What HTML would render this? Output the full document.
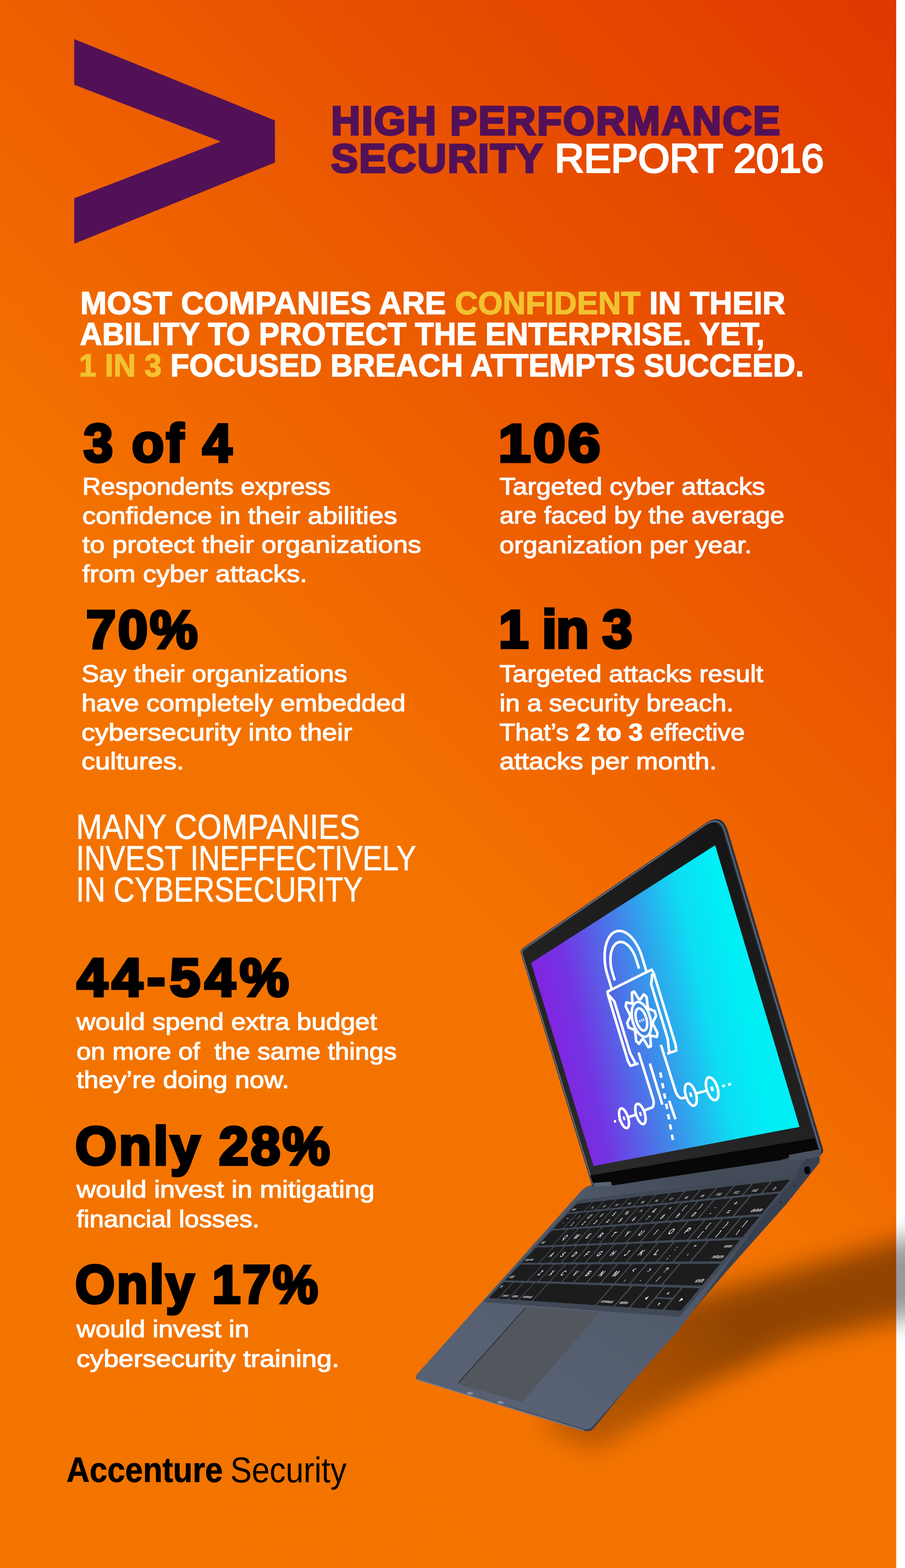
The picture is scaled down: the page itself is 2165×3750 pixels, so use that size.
<!DOCTYPE html>
<html lang="en"><head><meta charset="utf-8"><title>High Performance Security Report 2016</title>
<style>
html,body{margin:0;padding:0;}
body{width:2165px;height:3750px;overflow:hidden;background:#fff;position:relative}
#bg{position:absolute;left:0;top:0;width:2144px;height:3750px;background:linear-gradient(225deg,#E03800 0%,#F47300 55%,#F47400 100%)}
#art{position:absolute;left:0;top:0}
.t{position:absolute;white-space:pre;line-height:1;font-family:"Liberation Sans",Arial,sans-serif;transform-origin:0 0;margin:0}
</style></head><body>
<div id="bg"></div>
<svg id="art" width="2165" height="3750" viewBox="0 0 2165 3750">
<defs>
<filter id="sh1" x="-30%" y="-30%" width="160%" height="160%"><feGaussianBlur stdDeviation="30"/></filter>
<filter id="sh2" x="-30%" y="-30%" width="160%" height="160%"><feGaussianBlur stdDeviation="18"/></filter>
<linearGradient id="scr" gradientUnits="userSpaceOnUse" x1="1315" y1="2541" x2="1793" y2="2435">
<stop offset="0" stop-color="#8322E0"/><stop offset="0.18" stop-color="#7334E3"/><stop offset="0.5" stop-color="#3F8AE9"/><stop offset="0.8" stop-color="#0DDDF3"/><stop offset="1" stop-color="#00F0F6"/></linearGradient>
</defs>
<linearGradient id="shg" gradientUnits="userSpaceOnUse" x1="1350" y1="3450" x2="2150" y2="3050"><stop offset="0" stop-color="#000" stop-opacity="0.22"/><stop offset="0.55" stop-color="#000" stop-opacity="0.40"/><stop offset="1" stop-color="#000" stop-opacity="0.40"/></linearGradient>
<g filter="url(#sh1)"><polygon points="1290,3410 1600,3120 2280,2930 2280,3125 1894,3215 1656,3330 1420,3470" fill="url(#shg)"/></g>
<polygon points="177.6,93.4 657.7,288.0 657.7,388.8 177.6,583.0 177.6,474.2 528.0,338.6 177.6,202.6" fill="#521157" />
<path d="M1390.7,2848.4 Q1400.0,2838.0 1413.7,2835.0 L1453.0,2826.4 Q1455.0,2826.0 1457.0,2825.7 L1858.0,2768.6 Q1862.0,2768.0 1865.9,2767.3 L1954.1,2752.7 Q1958.0,2752.0 1958.6,2756.0 L1961.1,2773.1 Q1962.0,2779.0 1958.2,2783.7 L1881.0,2880.0 Q1881.0,2880.0 1881.0,2880.0 L1738.5,3040.0 Q1738.5,3040.0 1738.5,3040.0 L1483.0,3340.0 Q1483.0,3340.0 1483.0,3340.0 L1420.9,3415.2 Q1412.0,3426.0 1398.6,3421.9 L1004.3,3301.7 Q989.0,3297.0 999.7,3285.1 Z" fill="#394150" />
<linearGradient id="deckg" gradientUnits="userSpaceOnUse" x1="1650" y1="2810" x2="1300" y2="3300"><stop offset="0" stop-color="#434B59"/><stop offset="0.35" stop-color="#505969"/><stop offset="1" stop-color="#586173"/></linearGradient>
<path d="M1390.7,2848.4 Q1400.0,2838.0 1413.7,2835.0 L1453.0,2826.4 Q1455.0,2826.0 1457.0,2825.7 L1859.0,2768.4 Q1862.0,2768.0 1865.0,2767.6 L1935.0,2758.4 Q1938.0,2758.0 1936.2,2760.4 L1871.7,2847.7 Q1871.7,2847.7 1871.7,2847.7 L1765.0,2991.0 Q1765.0,2991.0 1765.0,2991.0 L1621.0,3184.0 Q1621.0,3184.0 1621.0,3184.0 L1418.3,3410.6 Q1409.0,3421.0 1395.6,3417.0 L1005.3,3299.6 Q990.0,3295.0 1000.7,3283.1 Z" fill="url(#deckg)" />
<path d="M1000,3299.5 L1396,3421" stroke="#6C7890" stroke-width="3" fill="none" stroke-linecap="round"/>
<path d="M1115,3333 l7,-5 l10,3 l-2,5 Z M1188,3355 l7,-5 l10,3 l-2,5 Z" fill="#8893A6"/>
<ellipse cx="1931.3" cy="2798.7" rx="7.5" ry="9.5" fill="#050505"/>
<circle cx="1901.5" cy="2835.7" r="1.6" fill="#111"/><circle cx="1867.4" cy="2874.6" r="1.6" fill="#111"/>
<path d="M1379.4,2874.0 Q1383.5,2869.6 1389.4,2868.9 L1906.2,2806.4 Q1912.1,2805.7 1908.3,2810.3 L1630.3,3145.0 Q1626.5,3149.6 1620.5,3149.1 L1161.3,3114.3 Q1155.3,3113.8 1159.4,3109.5 Z" fill="#414957" />
<g fill="#1C1C1D"><path d="M1378.1,2880.7 Q1379.6,2879.1 1381.8,2878.9 L1414.3,2875.1 Q1416.5,2874.9 1415.0,2876.5 L1398.4,2894.4 Q1396.9,2896.0 1394.7,2896.2 L1362.6,2899.4 Q1360.4,2899.6 1361.9,2898.0 Z"  /><path d="M1417.7,2876.2 Q1419.2,2874.6 1421.3,2874.3 L1441.9,2872.0 Q1444.1,2871.7 1442.6,2873.4 L1425.8,2891.6 Q1424.3,2893.3 1422.1,2893.5 L1401.8,2895.5 Q1399.6,2895.7 1401.1,2894.1 Z"  /><path d="M1445.4,2873.0 Q1446.9,2871.4 1449.1,2871.2 L1470.6,2868.7 Q1472.8,2868.5 1471.3,2870.1 L1454.2,2888.8 Q1452.7,2890.4 1450.5,2890.6 L1429.2,2892.8 Q1427.1,2893.0 1428.5,2891.4 Z"  /><path d="M1474.3,2869.8 Q1475.7,2868.1 1477.9,2867.9 L1500.6,2865.3 Q1502.8,2865.0 1501.3,2866.7 L1483.9,2885.8 Q1482.4,2887.4 1480.2,2887.7 L1457.8,2889.9 Q1455.6,2890.1 1457.1,2888.5 Z"  /><path d="M1504.3,2866.3 Q1505.8,2864.7 1508.0,2864.4 L1531.8,2861.7 Q1534.0,2861.5 1532.5,2863.1 L1514.9,2882.7 Q1513.4,2884.3 1511.2,2884.6 L1487.6,2886.9 Q1485.4,2887.1 1486.9,2885.5 Z"  /><path d="M1535.7,2862.8 Q1537.2,2861.1 1539.4,2860.9 L1564.5,2858.0 Q1566.6,2857.8 1565.2,2859.4 L1547.2,2879.5 Q1545.7,2881.1 1543.5,2881.3 L1518.7,2883.8 Q1516.5,2884.0 1518.0,2882.4 Z"  /><path d="M1568.5,2859.0 Q1570.0,2857.4 1572.2,2857.1 L1598.6,2854.1 Q1600.7,2853.9 1599.3,2855.5 L1581.0,2876.1 Q1579.5,2877.7 1577.3,2877.9 L1551.2,2880.6 Q1549.0,2880.8 1550.5,2879.1 Z"  /><path d="M1602.8,2855.1 Q1604.2,2853.5 1606.4,2853.2 L1634.2,2850.0 Q1636.4,2849.8 1635.0,2851.4 L1616.4,2872.5 Q1614.9,2874.2 1612.7,2874.4 L1585.2,2877.2 Q1583.0,2877.4 1584.5,2875.7 Z"  /><path d="M1638.6,2851.0 Q1640.1,2849.4 1642.3,2849.1 L1671.6,2845.8 Q1673.8,2845.5 1672.3,2847.2 L1653.4,2868.8 Q1652.0,2870.5 1649.8,2870.7 L1620.7,2873.6 Q1618.5,2873.8 1620.0,2872.2 Z"  /><path d="M1676.2,2846.8 Q1677.6,2845.1 1679.8,2844.8 L1710.8,2841.3 Q1713.0,2841.1 1711.5,2842.7 L1692.3,2864.9 Q1690.8,2866.6 1688.6,2866.8 L1657.9,2869.9 Q1655.8,2870.1 1657.2,2868.4 Z"  /><path d="M1715.5,2842.3 Q1717.0,2840.6 1719.2,2840.4 L1751.9,2836.6 Q1754.1,2836.4 1752.6,2838.0 L1733.0,2860.8 Q1731.6,2862.5 1729.4,2862.7 L1697.0,2866.0 Q1694.8,2866.2 1696.2,2864.5 Z"  /><path d="M1756.9,2837.6 Q1758.3,2835.9 1760.5,2835.6 L1795.1,2831.7 Q1797.3,2831.4 1795.8,2833.1 L1775.9,2856.5 Q1774.5,2858.2 1772.3,2858.4 L1738.0,2861.9 Q1735.8,2862.1 1737.2,2860.4 Z"  /><path d="M1800.3,2832.6 Q1801.7,2830.9 1803.9,2830.7 L1840.5,2826.5 Q1842.7,2826.3 1841.3,2827.9 L1821.0,2852.0 Q1819.6,2853.7 1817.4,2853.9 L1781.1,2857.6 Q1778.9,2857.8 1780.3,2856.1 Z"  /><path d="M1846.0,2827.4 Q1847.4,2825.7 1849.6,2825.5 L1888.4,2821.0 Q1890.6,2820.8 1889.2,2822.5 L1868.6,2847.3 Q1867.2,2848.9 1865.0,2849.2 L1826.4,2853.0 Q1824.3,2853.2 1825.7,2851.6 Z"  /><path d="M1355.1,2905.4 Q1356.6,2903.8 1358.8,2903.6 L1377.6,2901.7 Q1379.8,2901.5 1378.3,2903.1 L1347.8,2935.9 Q1346.3,2937.5 1344.1,2937.7 L1325.8,2939.0 Q1323.6,2939.2 1325.1,2937.6 Z"  /><path d="M1380.9,2902.9 Q1382.4,2901.3 1384.6,2901.0 L1404.3,2899.1 Q1406.5,2898.9 1405.0,2900.5 L1374.1,2934.0 Q1372.6,2935.7 1370.4,2935.8 L1351.1,2937.2 Q1348.9,2937.4 1350.4,2935.7 Z"  /><path d="M1407.7,2900.3 Q1409.2,2898.7 1411.4,2898.4 L1432.2,2896.4 Q1434.3,2896.2 1432.9,2897.8 L1401.4,2932.1 Q1400.0,2933.7 1397.8,2933.8 L1377.5,2935.3 Q1375.3,2935.5 1376.8,2933.8 Z"  /><path d="M1435.7,2897.6 Q1437.2,2895.9 1439.4,2895.7 L1461.2,2893.6 Q1463.4,2893.4 1461.9,2895.0 L1430.0,2930.0 Q1428.5,2931.6 1426.3,2931.8 L1404.9,2933.3 Q1402.8,2933.5 1404.2,2931.9 Z"  /><path d="M1464.8,2894.7 Q1466.3,2893.1 1468.5,2892.9 L1491.4,2890.7 Q1493.6,2890.5 1492.1,2892.1 L1459.7,2927.9 Q1458.2,2929.5 1456.0,2929.7 L1433.6,2931.3 Q1431.4,2931.4 1432.9,2929.8 Z"  /><path d="M1495.2,2891.8 Q1496.7,2890.2 1498.9,2889.9 L1523.0,2887.6 Q1525.2,2887.4 1523.7,2889.0 L1490.8,2925.6 Q1489.3,2927.3 1487.1,2927.4 L1463.5,2929.1 Q1461.3,2929.3 1462.8,2927.7 Z"  /><path d="M1527.0,2888.7 Q1528.4,2887.1 1530.6,2886.9 L1556.0,2884.4 Q1558.2,2884.2 1556.7,2885.8 L1523.3,2923.3 Q1521.8,2924.9 1519.6,2925.1 L1494.7,2926.9 Q1492.5,2927.0 1494.0,2925.4 Z"  /><path d="M1560.1,2885.5 Q1561.6,2883.9 1563.8,2883.6 L1590.5,2881.0 Q1592.7,2880.8 1591.2,2882.5 L1557.2,2920.9 Q1555.8,2922.5 1553.6,2922.7 L1527.3,2924.5 Q1525.1,2924.7 1526.6,2923.1 Z"  /><path d="M1594.8,2882.1 Q1596.2,2880.5 1598.4,2880.3 L1626.7,2877.5 Q1628.8,2877.3 1627.4,2879.0 L1592.8,2918.3 Q1591.4,2919.9 1589.2,2920.1 L1561.5,2922.1 Q1559.3,2922.2 1560.7,2920.6 Z"  /><path d="M1631.1,2878.6 Q1632.6,2877.0 1634.7,2876.7 L1664.5,2873.8 Q1666.7,2873.6 1665.3,2875.3 L1630.1,2915.6 Q1628.7,2917.3 1626.5,2917.4 L1597.2,2919.5 Q1595.0,2919.7 1596.5,2918.0 Z"  /><path d="M1669.2,2874.9 Q1670.6,2873.3 1672.8,2873.0 L1704.3,2870.0 Q1706.5,2869.8 1705.0,2871.4 L1669.3,2912.8 Q1667.9,2914.4 1665.7,2914.6 L1634.7,2916.8 Q1632.5,2917.0 1634.0,2915.3 Z"  /><path d="M1709.1,2871.0 Q1710.5,2869.4 1712.7,2869.2 L1746.0,2865.9 Q1748.2,2865.7 1746.8,2867.4 L1710.5,2909.8 Q1709.1,2911.5 1706.9,2911.6 L1674.1,2914.0 Q1671.9,2914.2 1673.3,2912.5 Z"  /><path d="M1751.1,2867.0 Q1752.5,2865.3 1754.7,2865.1 L1789.9,2861.7 Q1792.1,2861.4 1790.7,2863.1 L1753.8,2906.7 Q1752.4,2908.4 1750.2,2908.5 L1715.5,2911.0 Q1713.3,2911.2 1714.7,2909.5 Z"  /><path d="M1795.2,2862.7 Q1796.6,2861.0 1798.8,2860.8 L1860.3,2854.8 Q1862.4,2854.6 1861.0,2856.3 L1823.2,2901.7 Q1821.8,2903.4 1819.6,2903.6 L1759.1,2907.9 Q1756.9,2908.1 1758.3,2906.4 Z"  /><path d="M1318.1,2945.0 Q1319.6,2943.4 1321.8,2943.2 L1353.1,2941.1 Q1355.3,2940.9 1353.8,2942.5 L1322.6,2976.3 Q1321.1,2977.9 1318.9,2978.0 L1288.2,2979.3 Q1286.0,2979.4 1287.5,2977.8 Z"  /><path d="M1356.5,2942.4 Q1358.0,2940.7 1360.1,2940.6 L1379.9,2939.2 Q1382.1,2939.1 1380.6,2940.7 L1348.8,2975.2 Q1347.3,2976.9 1345.1,2976.9 L1325.8,2977.7 Q1323.6,2977.8 1325.1,2976.2 Z"  /><path d="M1383.3,2940.5 Q1384.8,2938.9 1387.0,2938.7 L1407.8,2937.3 Q1410.0,2937.2 1408.5,2938.8 L1376.2,2974.1 Q1374.7,2975.7 1372.5,2975.8 L1352.2,2976.7 Q1350.0,2976.7 1351.5,2975.1 Z"  /><path d="M1411.3,2938.6 Q1412.8,2937.0 1415.0,2936.8 L1436.8,2935.3 Q1439.0,2935.2 1437.5,2936.8 L1404.7,2972.9 Q1403.2,2974.5 1401.0,2974.6 L1379.7,2975.5 Q1377.5,2975.6 1379.0,2974.0 Z"  /><path d="M1440.5,2936.6 Q1442.0,2935.0 1444.2,2934.8 L1467.2,2933.2 Q1469.4,2933.1 1467.9,2934.7 L1434.5,2971.7 Q1433.1,2973.3 1430.9,2973.4 L1408.4,2974.3 Q1406.2,2974.4 1407.6,2972.8 Z"  /><path d="M1471.0,2934.5 Q1472.5,2932.9 1474.7,2932.7 L1498.9,2931.1 Q1501.1,2930.9 1499.6,2932.5 L1465.7,2970.4 Q1464.2,2972.0 1462.0,2972.1 L1438.3,2973.1 Q1436.1,2973.2 1437.6,2971.5 Z"  /><path d="M1502.9,2932.3 Q1504.3,2930.7 1506.5,2930.5 L1532.0,2928.8 Q1534.2,2928.6 1532.8,2930.3 L1498.3,2969.0 Q1496.8,2970.7 1494.6,2970.8 L1469.6,2971.8 Q1467.4,2971.9 1468.9,2970.2 Z"  /><path d="M1536.2,2930.0 Q1537.6,2928.4 1539.8,2928.2 L1566.7,2926.4 Q1568.9,2926.2 1567.5,2927.9 L1532.4,2967.6 Q1531.0,2969.3 1528.8,2969.4 L1502.4,2970.4 Q1500.2,2970.5 1501.6,2968.9 Z"  /><path d="M1571.0,2927.6 Q1572.5,2926.0 1574.7,2925.8 L1603.1,2923.9 Q1605.3,2923.7 1603.9,2925.4 L1568.2,2966.1 Q1566.8,2967.8 1564.6,2967.9 L1536.7,2969.0 Q1534.5,2969.1 1535.9,2967.5 Z"  /><path d="M1607.6,2925.1 Q1609.1,2923.5 1611.2,2923.3 L1641.3,2921.3 Q1643.5,2921.1 1642.0,2922.8 L1605.8,2964.6 Q1604.4,2966.2 1602.2,2966.3 L1572.6,2967.5 Q1570.4,2967.6 1571.9,2966.0 Z"  /><path d="M1646.0,2922.5 Q1647.4,2920.9 1649.6,2920.7 L1681.4,2918.5 Q1683.6,2918.4 1682.2,2920.0 L1645.3,2962.9 Q1643.9,2964.6 1641.7,2964.7 L1610.4,2966.0 Q1608.2,2966.1 1609.7,2964.4 Z"  /><path d="M1686.3,2919.8 Q1687.7,2918.1 1689.9,2917.9 L1723.6,2915.6 Q1725.8,2915.5 1724.3,2917.1 L1686.8,2961.2 Q1685.4,2962.9 1683.2,2963.0 L1650.1,2964.3 Q1647.9,2964.4 1649.3,2962.8 Z"  /><path d="M1728.7,2916.8 Q1730.1,2915.2 1732.3,2915.0 L1768.0,2912.6 Q1770.2,2912.4 1768.8,2914.1 L1730.6,2959.4 Q1729.2,2961.1 1727.0,2961.2 L1691.9,2962.6 Q1689.7,2962.7 1691.1,2961.0 Z"  /><path d="M1773.3,2913.8 Q1774.7,2912.1 1776.9,2912.0 L1814.8,2909.4 Q1817.0,2909.2 1815.6,2910.9 L1776.8,2957.5 Q1775.4,2959.2 1773.2,2959.2 L1735.9,2960.8 Q1733.7,2960.9 1735.1,2959.2 Z"  /><path d="M1280.6,2985.3 Q1282.1,2983.7 1284.3,2983.6 L1321.2,2982.2 Q1323.4,2982.1 1321.9,2983.7 L1289.9,3018.3 Q1288.4,3020.0 1286.2,3020.0 L1250.1,3020.3 Q1247.9,3020.3 1249.4,3018.7 Z"  /><path d="M1324.5,2983.6 Q1326.0,2982.0 1328.2,2981.9 L1347.7,2981.2 Q1349.9,2981.1 1348.4,2982.7 L1315.9,3018.1 Q1314.4,3019.7 1312.2,3019.8 L1293.2,3019.9 Q1291.0,3019.9 1292.5,3018.3 Z"  /><path d="M1351.1,2982.6 Q1352.6,2981.0 1354.8,2980.9 L1375.3,2980.1 Q1377.5,2980.0 1376.0,2981.7 L1342.9,3017.9 Q1341.4,3019.5 1339.2,3019.5 L1319.2,3019.7 Q1317.0,3019.7 1318.5,3018.1 Z"  /><path d="M1378.8,2981.5 Q1380.3,2979.9 1382.5,2979.8 L1404.1,2979.0 Q1406.3,2978.9 1404.8,2980.6 L1371.2,3017.6 Q1369.7,3019.3 1367.5,3019.3 L1346.4,3019.5 Q1344.2,3019.5 1345.7,3017.9 Z"  /><path d="M1407.8,2980.5 Q1409.3,2978.8 1411.5,2978.7 L1434.2,2977.9 Q1436.4,2977.8 1434.9,2979.4 L1400.7,3017.4 Q1399.2,3019.0 1397.0,3019.0 L1374.8,3019.2 Q1372.6,3019.3 1374.1,3017.6 Z"  /><path d="M1438.0,2979.3 Q1439.5,2977.7 1441.7,2977.6 L1465.6,2976.7 Q1467.8,2976.6 1466.4,2978.2 L1431.6,3017.1 Q1430.1,3018.8 1427.9,3018.8 L1404.4,3019.0 Q1402.2,3019.0 1403.7,3017.4 Z"  /><path d="M1469.6,2978.1 Q1471.1,2976.5 1473.3,2976.4 L1498.5,2975.4 Q1500.7,2975.3 1499.3,2977.0 L1463.9,3016.9 Q1462.4,3018.5 1460.2,3018.5 L1435.5,3018.7 Q1433.3,3018.7 1434.7,3017.1 Z"  /><path d="M1502.7,2976.9 Q1504.1,2975.2 1506.3,2975.1 L1533.0,2974.1 Q1535.2,2974.0 1533.8,2975.7 L1497.8,3016.6 Q1496.3,3018.2 1494.1,3018.2 L1467.9,3018.5 Q1465.7,3018.5 1467.2,3016.8 Z"  /><path d="M1537.3,2975.6 Q1538.8,2973.9 1541.0,2973.8 L1569.2,2972.7 Q1571.4,2972.7 1569.9,2974.3 L1533.3,3016.3 Q1531.9,3017.9 1529.7,3017.9 L1502.0,3018.2 Q1499.8,3018.2 1501.2,3016.5 Z"  /><path d="M1573.7,2974.2 Q1575.1,2972.5 1577.3,2972.4 L1607.2,2971.3 Q1609.4,2971.2 1607.9,2972.9 L1570.7,3015.9 Q1569.2,3017.6 1567.0,3017.6 L1537.7,3017.9 Q1535.5,3017.9 1537.0,3016.2 Z"  /><path d="M1611.8,2972.7 Q1613.3,2971.1 1615.5,2971.0 L1647.1,2969.8 Q1649.3,2969.7 1647.9,2971.4 L1609.9,3015.6 Q1608.5,3017.3 1606.3,3017.3 L1575.3,3017.6 Q1573.1,3017.6 1574.5,3015.9 Z"  /><path d="M1652.0,2971.2 Q1653.4,2969.5 1655.6,2969.5 L1689.1,2968.2 Q1691.3,2968.1 1689.9,2969.8 L1651.3,3015.3 Q1649.9,3016.9 1647.7,3016.9 L1614.7,3017.2 Q1612.5,3017.2 1614.0,3015.6 Z"  /><path d="M1694.2,2969.6 Q1695.7,2967.9 1697.9,2967.9 L1768.3,2965.2 Q1770.5,2965.1 1769.1,2966.8 L1729.3,3014.6 Q1727.9,3016.3 1725.7,3016.3 L1656.3,3016.9 Q1654.1,3016.9 1655.6,3015.2 Z"  /><path d="M1242.3,3026.3 Q1243.8,3024.6 1246.0,3024.6 L1294.9,3024.4 Q1297.1,3024.4 1295.6,3026.0 L1262.7,3061.7 Q1261.2,3063.4 1259.0,3063.3 L1211.2,3062.0 Q1209.0,3061.9 1210.5,3060.3 Z"  /><path d="M1298.2,3026.0 Q1299.7,3024.4 1301.9,3024.4 L1321.3,3024.3 Q1323.5,3024.3 1322.0,3025.9 L1288.5,3062.4 Q1287.1,3064.1 1284.9,3064.0 L1265.9,3063.5 Q1263.7,3063.4 1265.2,3061.8 Z"  /><path d="M1324.7,3025.9 Q1326.2,3024.3 1328.4,3024.2 L1348.9,3024.1 Q1351.1,3024.1 1349.6,3025.8 L1315.6,3063.2 Q1314.1,3064.8 1311.9,3064.7 L1291.9,3064.2 Q1289.7,3064.1 1291.2,3062.5 Z"  /><path d="M1352.4,3025.8 Q1353.9,3024.1 1356.1,3024.1 L1377.7,3024.0 Q1379.9,3024.0 1378.4,3025.6 L1343.8,3063.9 Q1342.3,3065.6 1340.1,3065.5 L1319.0,3064.9 Q1316.8,3064.9 1318.3,3063.3 Z"  /><path d="M1381.4,3025.6 Q1382.9,3024.0 1385.1,3024.0 L1407.8,3023.9 Q1410.0,3023.9 1408.6,3025.5 L1373.3,3064.8 Q1371.8,3066.4 1369.6,3066.3 L1347.4,3065.7 Q1345.2,3065.7 1346.7,3064.0 Z"  /><path d="M1411.7,3025.5 Q1413.1,3023.8 1415.3,3023.8 L1439.4,3023.7 Q1441.6,3023.7 1440.1,3025.3 L1404.2,3065.6 Q1402.7,3067.2 1400.5,3067.2 L1377.1,3066.5 Q1374.9,3066.5 1376.3,3064.8 Z"  /><path d="M1443.3,3025.3 Q1444.8,3023.7 1447.0,3023.7 L1472.4,3023.6 Q1474.6,3023.5 1473.1,3025.2 L1436.6,3066.5 Q1435.1,3068.1 1432.9,3068.1 L1408.1,3067.4 Q1405.9,3067.3 1407.4,3065.7 Z"  /><path d="M1476.5,3025.2 Q1478.0,3023.5 1480.2,3023.5 L1507.0,3023.4 Q1509.2,3023.4 1507.8,3025.0 L1470.6,3067.4 Q1469.1,3069.1 1466.9,3069.0 L1440.7,3068.3 Q1438.5,3068.2 1439.9,3066.6 Z"  /><path d="M1511.3,3025.0 Q1512.8,3023.4 1515.0,3023.4 L1543.4,3023.2 Q1545.6,3023.2 1544.1,3024.9 L1506.3,3068.4 Q1504.9,3070.0 1502.7,3070.0 L1474.8,3069.2 Q1472.6,3069.2 1474.1,3067.5 Z"  /><path d="M1547.9,3024.9 Q1549.3,3023.2 1551.5,3023.2 L1581.6,3023.0 Q1583.8,3023.0 1582.4,3024.7 L1543.8,3069.4 Q1542.4,3071.1 1540.2,3071.0 L1510.7,3070.2 Q1508.5,3070.1 1510.0,3068.5 Z"  /><path d="M1586.3,3024.7 Q1587.7,3023.0 1589.9,3023.0 L1621.8,3022.8 Q1624.0,3022.8 1622.6,3024.5 L1583.4,3070.5 Q1582.0,3072.1 1579.8,3072.1 L1548.5,3071.2 Q1546.3,3071.2 1547.7,3069.5 Z"  /><path d="M1626.7,3024.5 Q1628.2,3022.8 1630.4,3022.8 L1720.6,3022.4 Q1722.8,3022.4 1721.4,3024.1 L1680.6,3073.1 Q1679.1,3074.8 1676.9,3074.7 L1588.2,3072.3 Q1586.0,3072.3 1587.5,3070.6 Z"  /><path d="M1203.4,3068.0 Q1204.9,3066.4 1207.1,3066.4 L1223.9,3067.0 Q1226.1,3067.0 1224.6,3068.6 L1191.7,3104.1 Q1190.2,3105.7 1188.0,3105.5 L1171.7,3104.4 Q1169.5,3104.3 1171.0,3102.7 Z"  /><path d="M1227.0,3068.7 Q1228.5,3067.1 1230.7,3067.2 L1248.4,3067.7 Q1250.6,3067.8 1249.1,3069.4 L1215.7,3105.6 Q1214.2,3107.3 1212.0,3107.1 L1194.8,3106.0 Q1192.6,3105.8 1194.1,3104.2 Z"  /><path d="M1251.6,3069.5 Q1253.1,3067.9 1255.3,3067.9 L1274.0,3068.5 Q1276.2,3068.6 1274.7,3070.2 L1240.6,3107.3 Q1239.2,3108.9 1237.0,3108.8 L1218.8,3107.6 Q1216.6,3107.4 1218.1,3105.8 Z"  /><path d="M1277.3,3070.3 Q1278.8,3068.7 1281.0,3068.7 L1307.5,3069.6 Q1309.7,3069.6 1308.2,3071.3 L1273.4,3109.5 Q1271.9,3111.1 1269.7,3111.0 L1243.9,3109.2 Q1241.7,3109.1 1243.2,3107.5 Z"  /><path d="M1311.0,3071.4 Q1312.4,3069.7 1314.6,3069.8 L1462.2,3074.4 Q1464.4,3074.5 1462.9,3076.1 L1424.9,3119.5 Q1423.4,3121.1 1421.2,3121.0 L1276.8,3111.4 Q1274.6,3111.3 1276.1,3109.6 Z"  /><path d="M1466.4,3076.2 Q1467.9,3074.6 1470.1,3074.7 L1507.0,3075.8 Q1509.2,3075.9 1507.8,3077.6 L1468.8,3122.4 Q1467.4,3124.1 1465.2,3123.9 L1429.0,3121.5 Q1426.9,3121.4 1428.3,3119.7 Z"  /><path d="M1511.5,3077.7 Q1512.9,3076.0 1515.1,3076.1 L1545.0,3077.0 Q1547.2,3077.1 1545.7,3078.7 L1506.1,3124.9 Q1504.6,3126.5 1502.5,3126.4 L1473.2,3124.5 Q1471.0,3124.3 1472.5,3122.6 Z"  /><path d="M1549.6,3078.9 Q1551.1,3077.2 1553.3,3077.3 L1585.0,3078.3 Q1587.2,3078.3 1585.7,3080.0 L1545.3,3127.5 Q1543.9,3129.1 1541.7,3129.0 L1510.7,3126.9 Q1508.5,3126.8 1509.9,3125.1 Z"  /><path d="M1589.9,3080.1 Q1591.3,3078.5 1593.5,3078.5 L1627.2,3079.6 Q1629.4,3079.7 1627.9,3081.3 L1610.5,3102.1 Q1609.0,3103.8 1606.8,3103.7 L1573.5,3102.1 Q1571.3,3102.0 1572.7,3100.3 Z"  /><path d="M1566.8,3107.3 Q1568.2,3105.6 1570.4,3105.7 L1603.7,3107.4 Q1605.9,3107.5 1604.5,3109.2 L1586.8,3130.2 Q1585.4,3131.9 1583.2,3131.7 L1550.2,3129.6 Q1548.0,3129.4 1549.4,3127.7 Z"  /><path d="M1632.3,3081.5 Q1633.7,3079.8 1635.9,3079.9 L1671.7,3081.0 Q1673.9,3081.1 1672.5,3082.7 L1630.6,3133.1 Q1629.2,3134.8 1627.0,3134.7 L1591.8,3132.3 Q1589.6,3132.2 1591.1,3130.5 Z"  /></g>
<g fill="#E6E6E6" font-family="Liberation Sans, sans-serif" font-weight="700"><text transform="matrix(25.525 -2.626 -38.488 41.280 1367.3 2895.2)" font-size="0.2" text-anchor="start" font-weight="700">esc</text><text transform="matrix(27.442 -2.824 -39.459 42.757 1415.8 2890.2)" font-size="0.17" text-anchor="middle" font-weight="700">F1</text><text transform="matrix(28.583 -2.941 -40.006 43.609 1443.8 2887.3)" font-size="0.17" text-anchor="middle" font-weight="700">F2</text><text transform="matrix(29.796 -3.066 -40.564 44.496 1473.0 2884.3)" font-size="0.17" text-anchor="middle" font-weight="700">F3</text><text transform="matrix(31.088 -3.199 -41.134 45.420 1503.4 2881.2)" font-size="0.17" text-anchor="middle" font-weight="700">F4</text><text transform="matrix(32.467 -3.341 -41.716 46.383 1535.2 2877.9)" font-size="0.17" text-anchor="middle" font-weight="700">F5</text><text transform="matrix(33.938 -3.492 -42.309 47.387 1568.4 2874.5)" font-size="0.17" text-anchor="middle" font-weight="700">F6</text><text transform="matrix(35.513 -3.654 -42.913 48.436 1603.1 2870.9)" font-size="0.17" text-anchor="middle" font-weight="700">F7</text><text transform="matrix(37.199 -3.827 -43.528 49.532 1639.4 2867.2)" font-size="0.17" text-anchor="middle" font-weight="700">F8</text><text transform="matrix(39.008 -4.014 -44.153 50.679 1677.5 2863.3)" font-size="0.17" text-anchor="middle" font-weight="700">F9</text><text transform="matrix(40.953 -4.214 -44.788 51.880 1717.5 2859.2)" font-size="0.17" text-anchor="middle" font-weight="700">F10</text><text transform="matrix(43.046 -4.429 -45.431 53.140 1759.5 2854.9)" font-size="0.17" text-anchor="middle" font-weight="700">F11</text><text transform="matrix(45.305 -4.662 -46.082 54.462 1803.6 2850.3)" font-size="0.17" text-anchor="middle" font-weight="700">F12</text><text transform="matrix(47.746 -4.913 -46.739 55.852 1850.1 2845.5)" font-size="0.17" text-anchor="middle" font-weight="700">⏻</text><text transform="matrix(25.558 -2.214 -39.052 41.961 1354.1 2917.7)" font-size="0.3" text-anchor="middle" font-weight="700">~</text><text transform="matrix(25.358 -1.914 -39.315 42.243 1339.6 2933.3)" font-size="0.3" text-anchor="middle" font-weight="700">`</text><text transform="matrix(26.594 -2.304 -39.595 42.782 1380.1 2915.5)" font-size="0.3" text-anchor="middle" font-weight="700">!</text><text transform="matrix(26.389 -1.992 -39.867 43.075 1365.4 2931.3)" font-size="0.3" text-anchor="middle" font-weight="700">1</text><text transform="matrix(27.694 -2.399 -40.150 43.635 1407.3 2913.1)" font-size="0.3" text-anchor="middle" font-weight="700">@</text><text transform="matrix(27.484 -2.075 -40.432 43.941 1392.4 2929.3)" font-size="0.3" text-anchor="middle" font-weight="700">2</text><text transform="matrix(28.863 -2.500 -40.718 44.523 1435.5 2910.7)" font-size="0.3" text-anchor="middle" font-weight="700">#</text><text transform="matrix(28.649 -2.163 -41.009 44.842 1420.4 2927.2)" font-size="0.3" text-anchor="middle" font-weight="700">3</text><text transform="matrix(30.108 -2.608 -41.298 45.449 1465.0 2908.1)" font-size="0.3" text-anchor="middle" font-weight="700">$</text><text transform="matrix(29.890 -2.256 -41.599 45.780 1449.7 2925.0)" font-size="0.3" text-anchor="middle" font-weight="700">4</text><text transform="matrix(31.436 -2.723 -41.890 46.413 1495.8 2905.4)" font-size="0.3" text-anchor="middle" font-weight="700">%</text><text transform="matrix(31.212 -2.356 -42.202 46.759 1480.2 2922.7)" font-size="0.3" text-anchor="middle" font-weight="700">5</text><text transform="matrix(32.853 -2.846 -42.494 47.419 1527.9 2902.6)" font-size="0.3" text-anchor="middle" font-weight="700">^</text><text transform="matrix(32.625 -2.463 -42.818 47.781 1512.1 2920.3)" font-size="0.3" text-anchor="middle" font-weight="700">6</text><text transform="matrix(34.369 -2.977 -43.111 48.470 1561.5 2899.7)" font-size="0.3" text-anchor="middle" font-weight="700">&amp;</text><text transform="matrix(34.136 -2.577 -43.447 48.848 1545.5 2917.7)" font-size="0.3" text-anchor="middle" font-weight="700">7</text><text transform="matrix(35.991 -3.118 -43.740 49.568 1596.7 2896.7)" font-size="0.3" text-anchor="middle" font-weight="700">*</text><text transform="matrix(35.754 -2.699 -44.089 49.964 1580.4 2915.1)" font-size="0.3" text-anchor="middle" font-weight="700">8</text><text transform="matrix(37.731 -3.269 -44.380 50.717 1633.5 2893.5)" font-size="0.3" text-anchor="middle" font-weight="700">(</text><text transform="matrix(37.490 -2.830 -44.743 51.132 1617.1 2912.3)" font-size="0.3" text-anchor="middle" font-weight="700">9</text><text transform="matrix(39.601 -3.431 -45.031 51.921 1672.2 2890.1)" font-size="0.3" text-anchor="middle" font-weight="700">)</text><text transform="matrix(39.355 -2.971 -45.409 52.356 1655.5 2909.4)" font-size="0.3" text-anchor="middle" font-weight="700">0</text><text transform="matrix(41.613 -3.605 -45.693 53.183 1712.8 2886.6)" font-size="0.3" text-anchor="middle" font-weight="700">_</text><text transform="matrix(41.364 -3.122 -46.085 53.640 1695.8 2906.4)" font-size="0.3" text-anchor="middle" font-weight="700">-</text><text transform="matrix(43.783 -3.793 -46.364 54.508 1755.5 2882.9)" font-size="0.3" text-anchor="middle" font-weight="700">+</text><text transform="matrix(43.530 -3.286 -46.773 54.988 1738.2 2903.2)" font-size="0.3" text-anchor="middle" font-weight="700">=</text><text transform="matrix(47.960 -3.620 -48.052 57.640 1821.9 2896.9)" font-size="0.2" text-anchor="end" font-weight="700">delete</text><text transform="matrix(24.506 -1.111 -39.814 42.703 1293.7 2974.1)" font-size="0.2" text-anchor="start" font-weight="700">tab</text><text transform="matrix(26.483 -1.352 -40.736 44.141 1347.4 2964.3)" font-size="0.36" text-anchor="middle" font-weight="700">Q</text><text transform="matrix(27.602 -1.409 -41.327 45.050 1374.5 2962.9)" font-size="0.36" text-anchor="middle" font-weight="700">W</text><text transform="matrix(28.793 -1.470 -41.933 45.998 1402.6 2961.5)" font-size="0.36" text-anchor="middle" font-weight="700">E</text><text transform="matrix(30.064 -1.535 -42.553 46.987 1432.1 2960.0)" font-size="0.36" text-anchor="middle" font-weight="700">R</text><text transform="matrix(31.420 -1.604 -43.187 48.019 1462.8 2958.4)" font-size="0.36" text-anchor="middle" font-weight="700">T</text><text transform="matrix(32.870 -1.678 -43.835 49.097 1494.9 2956.8)" font-size="0.36" text-anchor="middle" font-weight="700">Y</text><text transform="matrix(34.423 -1.757 -44.498 50.225 1528.6 2955.0)" font-size="0.36" text-anchor="middle" font-weight="700">U</text><text transform="matrix(36.088 -1.842 -45.174 51.406 1563.8 2953.2)" font-size="0.36" text-anchor="middle" font-weight="700">I</text><text transform="matrix(37.878 -1.934 -45.864 52.644 1600.8 2951.4)" font-size="0.36" text-anchor="middle" font-weight="700">O</text><text transform="matrix(39.804 -2.032 -46.568 53.942 1639.6 2949.4)" font-size="0.36" text-anchor="middle" font-weight="700">P</text><text transform="matrix(42.020 -2.410 -47.066 55.053 1689.6 2936.5)" font-size="0.3" text-anchor="middle" font-weight="700">{</text><text transform="matrix(41.753 -1.892 -47.480 55.537 1672.2 2957.0)" font-size="0.3" text-anchor="middle" font-weight="700">[</text><text transform="matrix(44.266 -2.538 -47.784 56.474 1732.8 2934.1)" font-size="0.3" text-anchor="middle" font-weight="700">}</text><text transform="matrix(43.995 -1.994 -48.216 56.984 1715.0 2955.0)" font-size="0.3" text-anchor="middle" font-weight="700">]</text><text transform="matrix(46.696 -2.678 -48.513 57.972 1778.2 2931.4)" font-size="0.3" text-anchor="middle" font-weight="700">|</text><text transform="matrix(46.421 -2.104 -48.963 58.509 1760.2 2953.0)" font-size="0.3" text-anchor="middle" font-weight="700">\</text><text transform="matrix(23.958 -0.304 -40.511 43.450 1255.6 3015.1)" font-size="0.17" text-anchor="start" font-weight="700">caps lock</text><text transform="matrix(26.185 -0.495 -41.627 45.173 1314.9 3006.5)" font-size="0.36" text-anchor="middle" font-weight="700">A</text><text transform="matrix(27.308 -0.516 -42.250 46.126 1341.6 3006.0)" font-size="0.36" text-anchor="middle" font-weight="700">S</text><text transform="matrix(28.504 -0.539 -42.887 47.121 1369.5 3005.4)" font-size="0.36" text-anchor="middle" font-weight="700">D</text><text transform="matrix(29.781 -0.563 -43.541 48.159 1398.7 3004.9)" font-size="0.36" text-anchor="middle" font-weight="700">F</text><text transform="matrix(31.146 -0.589 -44.210 49.244 1429.1 3004.3)" font-size="0.36" text-anchor="middle" font-weight="700">G</text><text transform="matrix(32.606 -0.616 -44.895 50.379 1461.0 3003.7)" font-size="0.36" text-anchor="middle" font-weight="700">H</text><text transform="matrix(34.172 -0.646 -45.596 51.567 1494.4 3003.1)" font-size="0.36" text-anchor="middle" font-weight="700">J</text><text transform="matrix(35.853 -0.678 -46.313 52.813 1529.4 3002.4)" font-size="0.36" text-anchor="middle" font-weight="700">K</text><text transform="matrix(37.662 -0.712 -47.046 54.121 1566.1 3001.7)" font-size="0.36" text-anchor="middle" font-weight="700">L</text><text transform="matrix(39.757 -1.022 -47.576 55.242 1614.0 2990.2)" font-size="0.3" text-anchor="middle" font-weight="700">:</text><text transform="matrix(39.478 -0.501 -47.992 55.724 1596.3 3010.7)" font-size="0.3" text-anchor="middle" font-weight="700">;</text><text transform="matrix(41.864 -1.076 -48.330 56.674 1654.8 2989.2)" font-size="0.3" text-anchor="middle" font-weight="700">"</text><text transform="matrix(41.579 -0.528 -48.763 57.182 1636.9 3010.2)" font-size="0.3" text-anchor="middle" font-weight="700">'</text><text transform="matrix(46.867 -1.302 -49.864 59.813 1749.9 2983.2)" font-size="0.17" text-anchor="end" font-weight="700">enter</text><text transform="matrix(46.525 -0.591 -50.413 60.472 1728.3 3009.1)" font-size="0.2" text-anchor="end" font-weight="700">return</text><text transform="matrix(23.388 0.531 -41.226 44.217 1216.8 3056.7)" font-size="0.2" text-anchor="start" font-weight="700">shift</text><text transform="matrix(26.133 0.417 -42.716 46.493 1287.9 3050.0)" font-size="0.36" text-anchor="middle" font-weight="700">Z</text><text transform="matrix(27.277 0.435 -43.375 47.504 1314.6 3050.4)" font-size="0.36" text-anchor="middle" font-weight="700">X</text><text transform="matrix(28.497 0.455 -44.051 48.559 1342.5 3050.9)" font-size="0.36" text-anchor="middle" font-weight="700">C</text><text transform="matrix(29.800 0.475 -44.744 49.662 1371.6 3051.3)" font-size="0.36" text-anchor="middle" font-weight="700">V</text><text transform="matrix(31.196 0.498 -45.456 50.817 1402.1 3051.8)" font-size="0.36" text-anchor="middle" font-weight="700">B</text><text transform="matrix(32.692 0.522 -46.185 52.026 1434.0 3052.3)" font-size="0.36" text-anchor="middle" font-weight="700">N</text><text transform="matrix(34.298 0.547 -46.932 53.295 1467.5 3052.9)" font-size="0.36" text-anchor="middle" font-weight="700">M</text><text transform="matrix(36.175 0.310 -47.485 54.384 1512.0 3042.8)" font-size="0.3" text-anchor="middle" font-weight="700">&lt;</text><text transform="matrix(35.889 0.815 -47.889 54.846 1494.3 3063.0)" font-size="0.3" text-anchor="middle" font-weight="700">,</text><text transform="matrix(38.040 0.326 -48.260 55.772 1549.1 3043.1)" font-size="0.3" text-anchor="middle" font-weight="700">&gt;</text><text transform="matrix(37.747 0.857 -48.680 56.258 1531.1 3063.8)" font-size="0.3" text-anchor="middle" font-weight="700">.</text><text transform="matrix(40.052 0.343 -49.051 57.232 1588.1 3043.4)" font-size="0.3" text-anchor="middle" font-weight="700">?</text><text transform="matrix(39.753 0.902 -49.490 57.744 1569.9 3064.7)" font-size="0.3" text-anchor="middle" font-weight="700">/</text><text transform="matrix(45.733 1.038 -51.660 61.968 1679.9 3067.2)" font-size="0.2" text-anchor="end" font-weight="700">shift</text><text transform="matrix(23.065 1.001 -41.625 44.646 1195.2 3079.8)" font-size="0.2" text-anchor="start" font-weight="700">fn</text><text transform="matrix(23.728 1.453 -42.595 45.931 1200.1 3100.5)" font-size="0.17" text-anchor="start" font-weight="700">control</text><text transform="matrix(24.742 1.515 -43.260 46.917 1224.3 3102.0)" font-size="0.17" text-anchor="start" font-weight="700">option</text><text transform="matrix(25.823 1.581 -43.943 47.946 1249.6 3103.5)" font-size="0.17" text-anchor="start" font-weight="700">command</text><text transform="matrix(34.513 2.113 -48.661 55.561 1436.1 3114.9)" font-size="0.17" text-anchor="start" font-weight="700">command</text><text transform="matrix(36.774 2.252 -49.701 57.384 1480.7 3117.7)" font-size="0.17" text-anchor="start" font-weight="700">option</text><text transform="matrix(39.677 2.039 -50.569 59.150 1544.0 3106.9)" font-size="0.18" text-anchor="middle" font-weight="700">◀</text><text transform="matrix(42.077 1.770 -51.147 60.448 1596.4 3095.2)" font-size="0.18" text-anchor="middle" font-weight="700">▲</text><text transform="matrix(41.676 2.539 -51.736 61.144 1573.0 3122.8)" font-size="0.18" text-anchor="middle" font-weight="700">▼</text><text transform="matrix(44.268 2.275 -52.330 62.534 1627.8 3111.2)" font-size="0.18" text-anchor="middle" font-weight="700">▶</text></g>
<path d="M1255.5,3130.0 Q1258.8,3126.3 1263.8,3126.7 L1429.6,3138.3 Q1434.6,3138.7 1431.3,3142.5 L1252.3,3349.2 Q1249.0,3353.0 1244.2,3351.7 L1098.8,3311.3 Q1094.0,3310.0 1097.3,3306.3 Z" fill="#52575D" />
<path d="M1096,3308 L1257,3128" stroke="#2A2E35" stroke-width="2" fill="none"/>
<path d="M1246.4,2281.6 Q1243.5,2272.0 1251.8,2266.4 L1688.1,1968.7 Q1727.7,1941.6 1741.5,1987.6 L1968.4,2746.6 Q1972.4,2760.0 1958.5,2761.9 L1420.0,2837.6 Q1417.0,2838.0 1416.1,2835.1 Z" fill="#2E3441" />
<path d="M1249.1,2282.1 Q1246.5,2273.5 1253.9,2268.4 L1686.2,1973.3 Q1722.5,1948.5 1735.1,1990.7 L1961.1,2746.0 Q1964.5,2757.5 1952.6,2759.2 L1422.0,2833.6 Q1419.0,2834.0 1418.1,2831.1 Z"  fill="none" stroke="#6E778A" stroke-width="2.2"/>
<linearGradient id="bezg" gradientUnits="userSpaceOnUse" x1="1760" y1="2050" x2="1330" y2="2700"><stop offset="0" stop-color="#161616"/><stop offset="1" stop-color="#2A2A2A"/></linearGradient>
<path d="M1251.9,2283.1 Q1249.5,2275.5 1256.1,2271.0 L1686.0,1975.6 Q1719.0,1953.0 1730.5,1991.3 L1957.1,2746.4 Q1960.0,2756.0 1950.1,2757.4 L1424.0,2831.6 Q1421.0,2832.0 1420.1,2829.1 Z" fill="url(#bezg)" />
<polygon points="1411.7,2811.3 1949.4,2721.7 1958.0,2748.6 1862.0,2775.6 1463.7,2835.4 1420.0,2834.0" fill="#070707" />
<polygon points="1420.0,2829.0 1462.0,2826.0 1464.0,2836.0 1421.0,2838.0" fill="#596273" />
<path d="M1887.2,2765.0 Q1887.0,2762.0 1890.0,2761.5 L1955.0,2749.5 Q1958.0,2749.0 1959.4,2751.6 L1964.6,2761.4 Q1966.0,2764.0 1963.1,2764.7 L1942.9,2769.3 Q1940.0,2770.0 1937.0,2770.3 L1891.0,2774.7 Q1888.0,2775.0 1887.8,2772.0 Z" fill="#4A5262" />
<polygon points="1270.5,2302.7 1710.8,2021.5 1912.7,2695.0 1420.0,2788.7" fill="url(#scr)" />
<g fill="none" stroke="#fff" stroke-width="6.2" stroke-linejoin="round" stroke-linecap="butt"><path d="M1463.7,2366.3 L1453.3,2332.2 L1453.3,2332.2 L1451.4,2325.8 L1449.9,2319.3 L1448.6,2312.8 L1447.6,2306.2 L1446.9,2299.6 L1446.5,2293.1 L1446.4,2286.8 L1446.6,2280.5 L1447.1,2274.4 L1447.8,2268.5 L1448.9,2262.9 L1450.3,2257.6 L1451.9,2252.5 L1453.8,2247.9 L1456.0,2243.6 L1458.4,2239.7 L1461.0,2236.3 L1463.9,2233.4 L1467.0,2230.9 L1470.3,2228.9 L1473.7,2227.5 L1477.3,2226.6 L1481.0,2226.3 L1484.8,2226.5 L1488.7,2227.3 L1492.6,2228.6 L1496.5,2230.5 L1500.4,2232.9 L1504.4,2235.8 L1508.2,2239.3 L1512.0,2243.2 L1515.6,2247.6 L1519.1,2252.4 L1522.4,2257.7 L1525.6,2263.3 L1528.5,2269.2 L1531.2,2275.4 L1533.7,2281.9 L1535.9,2288.6 L1546.9,2324.8"/><path d="M1470.8,2344.9 L1465.0,2326.0 L1465.0,2326.0 L1463.8,2321.5 L1462.7,2317.0 L1461.8,2312.4 L1461.1,2307.8 L1460.6,2303.3 L1460.4,2298.7 L1460.3,2294.3 L1460.4,2289.9 L1460.8,2285.7 L1461.3,2281.6 L1462.1,2277.7 L1463.1,2274.0 L1464.2,2270.5 L1465.6,2267.3 L1467.1,2264.4 L1468.8,2261.7 L1470.7,2259.4 L1472.7,2257.4 L1474.8,2255.7 L1477.1,2254.4 L1479.5,2253.5 L1482.0,2252.9 L1484.5,2252.7 L1487.2,2252.9 L1489.8,2253.4 L1492.5,2254.4 L1495.3,2255.7 L1498.0,2257.4 L1500.7,2259.5 L1503.3,2261.9 L1505.9,2264.6 L1508.4,2267.6 L1510.8,2271.0 L1513.1,2274.6 L1515.2,2278.4 L1517.2,2282.5 L1519.1,2286.8 L1520.8,2291.2 L1522.3,2295.8 L1522.3,2295.8 L1528.6,2316.6"/><path d="M1527.5,2543.0 L1508.4,2549.1 L1502.5,2538.6 L1454.9,2380.7 L1453.3,2371.5 L1558.8,2318.9 L1563.7,2327.3 L1616.2,2499.0 L1617.9,2512.6 L1596.0,2519.7"/><path d="M1456.7,2379.9 L1469.8,2395.5 L1507.4,2518.6 L1518.1,2539.0 L1520.1,2545.6"/><path d="M1560.4,2328.9 L1557.7,2353.7 L1597.5,2485.0 L1600.0,2509.9 L1602.1,2516.9"/><path d="M1512.9,2396.7 L1511.5,2374.0 L1517.1,2371.3 L1528.3,2389.6 L1529.9,2390.0 L1531.6,2390.6 L1540.1,2378.0 L1546.8,2384.3 L1549.5,2407.8 L1550.9,2410.2 L1552.3,2412.7 L1566.0,2418.1 L1569.5,2429.8 L1561.9,2444.2 L1562.2,2447.2 L1562.4,2450.1 L1572.9,2470.2 L1571.2,2480.1 L1557.8,2476.7 L1556.8,2478.4 L1555.8,2480.0 L1557.0,2502.4 L1551.2,2504.5 L1540.1,2486.1 L1538.5,2485.6 L1536.8,2484.9 L1528.5,2496.4 L1522.1,2490.0 L1519.4,2467.6 L1518.0,2465.2 L1516.7,2462.7 L1503.9,2457.3 L1500.5,2446.1 L1507.4,2432.3 L1507.1,2429.4 L1506.9,2426.5 L1496.9,2407.1 L1498.3,2397.4 L1511.0,2400.1 L1511.9,2398.3 Z"/><path d="M1554.3,2429.6 L1555.6,2434.1 L1556.5,2438.6 L1557.2,2443.0 L1557.7,2447.4 L1557.9,2451.7 L1557.8,2455.9 L1557.4,2459.8 L1556.8,2463.5 L1555.9,2466.9 L1554.8,2469.9 L1553.5,2472.6 L1551.9,2474.8 L1550.1,2476.7 L1548.2,2478.1 L1546.1,2479.0 L1543.9,2479.5 L1541.5,2479.5 L1539.1,2479.1 L1536.7,2478.2 L1534.2,2476.8 L1531.8,2475.0 L1529.3,2472.8 L1527.0,2470.2 L1524.7,2467.3 L1522.5,2464.0 L1520.5,2460.5 L1518.6,2456.7 L1516.9,2452.7 L1515.4,2448.5 L1514.1,2444.3 L1513.0,2439.9 L1512.1,2435.6 L1511.5,2431.2 L1511.2,2426.9 L1511.1,2422.8 L1511.3,2418.8 L1511.7,2415.0 L1512.4,2411.5 L1513.4,2408.3 L1514.5,2405.4 L1515.9,2402.8 L1517.5,2400.7 L1519.3,2398.9 L1521.3,2397.6 L1523.4,2396.8 L1525.7,2396.4 L1528.1,2396.5 L1530.5,2397.1 L1533.0,2398.1 L1535.5,2399.7 L1538.0,2401.6 L1540.5,2404.0 L1542.9,2406.7 L1545.2,2409.9 L1547.3,2413.3 L1549.4,2417.1 L1551.2,2421.1 L1552.9,2425.3 L1554.3,2429.6 Z"/><path d="M1545.7,2433.3 L1546.4,2436.1 L1547.1,2439.0 L1547.6,2441.8 L1547.9,2444.6 L1548.1,2447.3 L1548.1,2449.9 L1548.0,2452.3 L1547.7,2454.6 L1547.3,2456.8 L1546.7,2458.7 L1546.0,2460.3 L1545.1,2461.7 L1544.1,2462.9 L1543.0,2463.7 L1541.8,2464.3 L1540.6,2464.5 L1539.2,2464.5 L1537.8,2464.2 L1536.4,2463.5 L1534.9,2462.6 L1533.5,2461.4 L1532.0,2460.0 L1530.6,2458.3 L1529.2,2456.4 L1527.9,2454.3 L1526.6,2452.0 L1525.5,2449.5 L1524.4,2446.9 L1523.4,2444.3 L1522.6,2441.5 L1521.9,2438.7 L1521.3,2435.9 L1520.9,2433.2 L1520.6,2430.4 L1520.5,2427.8 L1520.5,2425.3 L1520.7,2422.9 L1521.1,2420.7 L1521.6,2418.7 L1522.2,2416.9 L1523.0,2415.3 L1523.9,2414.0 L1524.9,2413.0 L1526.0,2412.2 L1527.2,2411.8 L1528.5,2411.6 L1529.9,2411.8 L1531.3,2412.2 L1532.8,2412.9 L1534.3,2414.0 L1535.7,2415.3 L1537.2,2416.8 L1538.6,2418.6 L1540.0,2420.7 L1541.3,2422.9 L1542.6,2425.3 L1543.7,2427.9 L1544.7,2430.5 L1545.7,2433.3 Z"/><path d="M1529.3,2442.8 L1531.5,2441.8"/><path d="M1533.8,2440.9 L1536.1,2439.9"/><path d="M1538.3,2439.0 L1540.6,2438.0"/><path d="M1527.6,2517.3 L1562.2,2627.6 L1562.2,2627.6 L1563.0,2631.0 L1563.6,2634.3 L1563.8,2637.6 L1563.6,2640.6 L1563.1,2643.3 L1562.3,2645.6 L1561.2,2647.5 L1559.8,2648.8 L1558.2,2649.5 L1548.3,2652.8 L1539.9,2657.4"/><path d="M1542.1,2661.5 L1543.1,2665.4 L1543.9,2669.3 L1544.4,2673.1 L1544.5,2676.6 L1544.3,2679.8 L1543.8,2682.6 L1543.0,2684.9 L1541.9,2686.6 L1540.6,2687.8 L1539.0,2688.4 L1537.3,2688.3 L1535.4,2687.6 L1533.4,2686.3 L1531.5,2684.4 L1529.5,2682.0 L1527.6,2679.2 L1525.8,2675.9 L1524.2,2672.4 L1522.8,2668.7 L1521.6,2664.8 L1520.7,2660.9 L1520.1,2657.1 L1519.8,2653.5 L1519.8,2650.1 L1520.1,2647.1 L1520.7,2644.6 L1521.6,2642.5 L1522.8,2641.0 L1524.3,2640.1 L1525.9,2639.8 L1527.7,2640.1 L1529.6,2641.1 L1531.6,2642.7 L1533.6,2644.8 L1535.6,2647.4 L1537.5,2650.5 L1539.2,2653.9 L1540.8,2657.6 L1542.1,2661.5 Z"/><path d="M1502.3,2672.0 L1503.3,2675.8 L1504.1,2679.6 L1504.5,2683.2 L1504.7,2686.7 L1504.5,2689.8 L1504.1,2692.5 L1503.3,2694.7 L1502.3,2696.4 L1501.0,2697.5 L1499.6,2698.0 L1497.9,2697.9 L1496.1,2697.3 L1494.3,2696.0 L1492.4,2694.1 L1490.5,2691.8 L1488.7,2689.0 L1487.0,2685.9 L1485.4,2682.4 L1484.0,2678.8 L1482.9,2675.1 L1482.0,2671.3 L1481.4,2667.6 L1481.0,2664.1 L1481.0,2660.8 L1481.3,2657.9 L1481.9,2655.4 L1482.7,2653.4 L1483.9,2652.0 L1485.2,2651.1 L1486.8,2650.8 L1488.5,2651.2 L1490.3,2652.1 L1492.2,2653.6 L1494.1,2655.7 L1496.0,2658.3 L1497.8,2661.3 L1499.5,2664.6 L1501.0,2668.2 L1502.3,2672.0 Z"/><path d="M1521.8,2665.7 L1502.3,2672.0"/><path d="M1484.7,2677.7 L1479.7,2679.0"/><path d="M1473.7,2681.2 L1468.7,2682.5"/><path d="M1581.0,2498.9 L1615.8,2609.2 L1615.8,2609.2 L1617.1,2612.7 L1618.6,2615.9 L1620.3,2618.9 L1622.3,2621.4 L1624.3,2623.6 L1626.5,2625.2 L1628.6,2626.2 L1630.7,2626.6 L1632.7,2626.4 L1642.1,2623.8"/><path d="M1664.4,2614.6 L1665.6,2618.9 L1666.4,2623.2 L1666.8,2627.3 L1666.9,2631.2 L1666.6,2634.7 L1665.9,2637.8 L1664.9,2640.3 L1663.5,2642.3 L1661.9,2643.6 L1660.1,2644.3 L1658.0,2644.2 L1655.8,2643.5 L1653.6,2642.1 L1651.3,2640.2 L1649.1,2637.6 L1646.9,2634.5 L1644.9,2631.0 L1643.1,2627.2 L1641.5,2623.1 L1640.3,2618.9 L1639.3,2614.7 L1638.7,2610.5 L1638.4,2606.6 L1638.5,2602.9 L1639.0,2599.6 L1639.8,2596.7 L1640.9,2594.4 L1642.4,2592.7 L1644.1,2591.7 L1646.0,2591.3 L1648.2,2591.6 L1650.4,2592.6 L1652.7,2594.2 L1655.0,2596.5 L1657.2,2599.3 L1659.3,2602.7 L1661.3,2606.4 L1663.0,2610.4 L1664.4,2614.6 Z"/><path d="M1716.2,2600.5 L1717.4,2604.9 L1718.2,2609.3 L1718.6,2613.6 L1718.6,2617.6 L1718.3,2621.3 L1717.5,2624.5 L1716.4,2627.1 L1715.0,2629.2 L1713.2,2630.5 L1711.3,2631.2 L1709.1,2631.2 L1706.8,2630.5 L1704.4,2629.1 L1702.0,2627.0 L1699.6,2624.4 L1697.4,2621.2 L1695.3,2617.6 L1693.4,2613.7 L1691.8,2609.5 L1690.5,2605.1 L1689.5,2600.8 L1688.9,2596.5 L1688.6,2592.4 L1688.8,2588.5 L1689.3,2585.1 L1690.2,2582.2 L1691.4,2579.8 L1693.0,2578.0 L1694.8,2576.9 L1696.9,2576.5 L1699.1,2576.8 L1701.5,2577.8 L1703.9,2579.5 L1706.3,2581.8 L1708.7,2584.7 L1710.9,2588.1 L1712.9,2592.0 L1714.7,2596.1 L1716.2,2600.5 Z"/><path d="M1664.6,2615.2 L1691.3,2607.9"/><path d="M1727.5,2598.0 L1734.6,2596.1"/><path d="M1741.7,2594.2 L1748.8,2592.2"/><path d="M1554.6,2543.5 L1584.5,2641.9"/><path d="M1600.8,2632.6 L1615.8,2676.8"/><path d="M1579.5,2564.9 L1582.1,2577.7"/><path d="M1584.2,2590.0 L1586.8,2602.7"/><path d="M1588.9,2614.9 L1591.5,2627.6"/><path d="M1593.5,2639.7 L1596.1,2652.4"/><path d="M1598.1,2664.5 L1600.7,2677.1"/><path d="M1602.7,2689.1 L1605.3,2701.6"/><path d="M1607.3,2713.6 L1609.9,2726.1"/></g>
<g fill="#fff"><path d="M1528.2,2659.9 L1533.0,2658.6 L1536.0,2668.3 L1531.1,2669.6 Z"/><path d="M1489.0,2670.4 L1493.6,2669.2 L1496.5,2678.6 L1491.9,2679.8 Z"/><path d="M1648.1,2613.4 L1653.8,2611.8 L1657.0,2622.3 L1651.3,2623.9 Z"/><path d="M1698.8,2599.3 L1705.0,2597.6 L1708.3,2608.5 L1702.1,2610.2 Z"/></g>
</svg>
<div class="t" style="left:792.0px;top:240.6px;font-size:95.85px;-webkit-text-stroke-width:4.8px;letter-spacing:3px;transform:scaleX(1.0114)"><span style="color:#521157;-webkit-text-stroke-color:#521157;font-weight:700;">HIGH PERFORMANCE</span></div>
<div class="t" style="left:791.5px;top:330.6px;font-size:95.85px;-webkit-text-stroke-width:4.8px;letter-spacing:3px;transform:scaleX(1.0020)"><span style="color:#521157;-webkit-text-stroke-color:#521157;font-weight:700;">SECURITY</span></div>
<div class="t" style="left:1326.7px;top:330.0px;font-size:97.02px;-webkit-text-stroke-width:4.0px;letter-spacing:0px;transform:scaleX(1.0005)"><span style="color:#ffffff;-webkit-text-stroke-color:#ffffff;font-weight:400;">REPORT 2016</span></div>
<div class="t" style="left:192.0px;top:686.6px;font-size:76.51px;-webkit-text-stroke-width:1.9px;letter-spacing:0px;transform:scaleX(0.9947)"><span style="color:#ffffff;-webkit-text-stroke-color:#ffffff;font-weight:700;">MOST COMPANIES ARE </span><span style="color:#F2C230;-webkit-text-stroke-color:#F2C230;font-weight:700;">CONFIDENT</span><span style="color:#ffffff;-webkit-text-stroke-color:#ffffff;font-weight:700;"> IN THEIR</span></div>
<div class="t" style="left:191.4px;top:761.1px;font-size:76.51px;-webkit-text-stroke-width:1.9px;letter-spacing:0px;transform:scaleX(0.9658)"><span style="color:#ffffff;-webkit-text-stroke-color:#ffffff;font-weight:700;">ABILITY TO PROTECT THE ENTERPRISE. YET,</span></div>
<div class="t" style="left:189.0px;top:836.1px;font-size:76.51px;-webkit-text-stroke-width:1.9px;letter-spacing:0px;transform:scaleX(0.9692)"><span style="color:#F2C230;-webkit-text-stroke-color:#F2C230;font-weight:700;">1 IN 3</span><span style="color:#ffffff;-webkit-text-stroke-color:#ffffff;font-weight:700;"> FOCUSED BREACH ATTEMPTS SUCCEED.</span></div>
<div class="t" style="left:200.2px;top:995.8px;font-size:128.0px;-webkit-text-stroke-width:7.0px;letter-spacing:5px;transform:scaleX(0.9876)"><span style="color:#000000;-webkit-text-stroke-color:#000000;font-weight:700;">3 of 4</span></div>
<div class="t" style="left:1192.1px;top:996.1px;font-size:128.0px;-webkit-text-stroke-width:7.0px;letter-spacing:5px;transform:scaleX(1.0922)"><span style="color:#000000;-webkit-text-stroke-color:#000000;font-weight:700;">106</span></div>
<div class="t" style="left:205.5px;top:1442.3px;font-size:128.0px;-webkit-text-stroke-width:7.0px;letter-spacing:5px;transform:scaleX(1.0019)"><span style="color:#000000;-webkit-text-stroke-color:#000000;font-weight:700;">70%</span></div>
<div class="t" style="left:1192.6px;top:1441.1px;font-size:128.0px;-webkit-text-stroke-width:7.0px;letter-spacing:-2px;transform:scaleX(1.0077)"><span style="color:#000000;-webkit-text-stroke-color:#000000;font-weight:700;">1 in 3</span></div>
<div class="t" style="left:184.1px;top:2273.9px;font-size:128.0px;-webkit-text-stroke-width:7.0px;letter-spacing:10px;transform:scaleX(1.0320)"><span style="color:#000000;-webkit-text-stroke-color:#000000;font-weight:700;">44-54%</span></div>
<div class="t" style="left:180.0px;top:2677.1px;font-size:128.0px;-webkit-text-stroke-width:7.0px;letter-spacing:5px;transform:scaleX(0.9964)"><span style="color:#000000;-webkit-text-stroke-color:#000000;font-weight:700;">Only 28%</span></div>
<div class="t" style="left:179.6px;top:3007.7px;font-size:128.0px;-webkit-text-stroke-width:7.0px;letter-spacing:5px;transform:scaleX(0.9499)"><span style="color:#000000;-webkit-text-stroke-color:#000000;font-weight:700;">Only 17%</span></div>
<div class="t" style="left:196.7px;top:1133.9px;font-size:58.04px;-webkit-text-stroke-width:1.6px;letter-spacing:0px;transform:scaleX(1.0577)"><span style="color:#ffffff;-webkit-text-stroke-color:#ffffff;font-weight:400;">Respondents express</span></div>
<div class="t" style="left:196.7px;top:1203.6px;font-size:58.04px;-webkit-text-stroke-width:1.6px;letter-spacing:0px;transform:scaleX(1.1064)"><span style="color:#ffffff;-webkit-text-stroke-color:#ffffff;font-weight:400;">confidence in their abilities</span></div>
<div class="t" style="left:196.7px;top:1272.7px;font-size:58.04px;-webkit-text-stroke-width:1.6px;letter-spacing:0px;transform:scaleX(1.1072)"><span style="color:#ffffff;-webkit-text-stroke-color:#ffffff;font-weight:400;">to protect their organizations</span></div>
<div class="t" style="left:196.7px;top:1343.0px;font-size:58.04px;-webkit-text-stroke-width:1.6px;letter-spacing:0px;transform:scaleX(1.0974)"><span style="color:#ffffff;-webkit-text-stroke-color:#ffffff;font-weight:400;">from cyber attacks.</span></div>
<div class="t" style="left:1195.0px;top:1134.3px;font-size:58.04px;-webkit-text-stroke-width:1.6px;letter-spacing:0px;transform:scaleX(1.0883)"><span style="color:#ffffff;-webkit-text-stroke-color:#ffffff;font-weight:400;">Targeted cyber attacks</span></div>
<div class="t" style="left:1195.0px;top:1203.2px;font-size:58.04px;-webkit-text-stroke-width:1.6px;letter-spacing:0px;transform:scaleX(1.0617)"><span style="color:#ffffff;-webkit-text-stroke-color:#ffffff;font-weight:400;">are faced by the average</span></div>
<div class="t" style="left:1195.0px;top:1273.7px;font-size:58.04px;-webkit-text-stroke-width:1.6px;letter-spacing:0px;transform:scaleX(1.0812)"><span style="color:#ffffff;-webkit-text-stroke-color:#ffffff;font-weight:400;">organization per year.</span></div>
<div class="t" style="left:195.3px;top:1581.8px;font-size:58.04px;-webkit-text-stroke-width:1.6px;letter-spacing:0px;transform:scaleX(1.0765)"><span style="color:#ffffff;-webkit-text-stroke-color:#ffffff;font-weight:400;">Say their organizations</span></div>
<div class="t" style="left:195.3px;top:1651.9px;font-size:58.04px;-webkit-text-stroke-width:1.6px;letter-spacing:0px;transform:scaleX(1.0923)"><span style="color:#ffffff;-webkit-text-stroke-color:#ffffff;font-weight:400;">have completely embedded</span></div>
<div class="t" style="left:195.3px;top:1721.7px;font-size:58.04px;-webkit-text-stroke-width:1.6px;letter-spacing:0px;transform:scaleX(1.1154)"><span style="color:#ffffff;-webkit-text-stroke-color:#ffffff;font-weight:400;">cybersecurity into their</span></div>
<div class="t" style="left:195.3px;top:1790.7px;font-size:58.04px;-webkit-text-stroke-width:1.6px;letter-spacing:0px;transform:scaleX(1.1193)"><span style="color:#ffffff;-webkit-text-stroke-color:#ffffff;font-weight:400;">cultures.</span></div>
<div class="t" style="left:1195.0px;top:1582.4px;font-size:58.04px;-webkit-text-stroke-width:1.6px;letter-spacing:0px;transform:scaleX(1.0808)"><span style="color:#ffffff;-webkit-text-stroke-color:#ffffff;font-weight:400;">Targeted attacks result</span></div>
<div class="t" style="left:1195.0px;top:1651.6px;font-size:58.04px;-webkit-text-stroke-width:1.6px;letter-spacing:0px;transform:scaleX(1.0786)"><span style="color:#ffffff;-webkit-text-stroke-color:#ffffff;font-weight:400;">in a security breach.</span></div>
<div class="t" style="left:1195.0px;top:1721.5px;font-size:58.04px;-webkit-text-stroke-width:1.6px;letter-spacing:0px;transform:scaleX(1.0556)"><span style="color:#ffffff;-webkit-text-stroke-color:#ffffff;font-weight:400;">That’s </span><span style="color:#ffffff;-webkit-text-stroke-color:#ffffff;font-weight:700;">2 to 3</span><span style="color:#ffffff;-webkit-text-stroke-color:#ffffff;font-weight:400;"> effective</span></div>
<div class="t" style="left:1195.0px;top:1791.2px;font-size:58.04px;-webkit-text-stroke-width:1.6px;letter-spacing:0px;transform:scaleX(1.0888)"><span style="color:#ffffff;-webkit-text-stroke-color:#ffffff;font-weight:400;">attacks per month.</span></div>
<div class="t" style="left:183.1px;top:2413.7px;font-size:58.04px;-webkit-text-stroke-width:1.6px;letter-spacing:0px;transform:scaleX(1.0818)"><span style="color:#ffffff;-webkit-text-stroke-color:#ffffff;font-weight:400;">would spend extra budget</span></div>
<div class="t" style="left:183.1px;top:2484.6px;font-size:58.04px;-webkit-text-stroke-width:1.6px;letter-spacing:0px;transform:scaleX(1.0646)"><span style="color:#ffffff;-webkit-text-stroke-color:#ffffff;font-weight:400;">on more of  the same things</span></div>
<div class="t" style="left:183.1px;top:2553.2px;font-size:58.04px;-webkit-text-stroke-width:1.6px;letter-spacing:0px;transform:scaleX(1.0877)"><span style="color:#ffffff;-webkit-text-stroke-color:#ffffff;font-weight:400;">they’re doing now.</span></div>
<div class="t" style="left:183.1px;top:2815.2px;font-size:58.04px;-webkit-text-stroke-width:1.6px;letter-spacing:0px;transform:scaleX(1.1053)"><span style="color:#ffffff;-webkit-text-stroke-color:#ffffff;font-weight:400;">would invest in mitigating</span></div>
<div class="t" style="left:183.1px;top:2885.6px;font-size:58.04px;-webkit-text-stroke-width:1.6px;letter-spacing:0px;transform:scaleX(1.0684)"><span style="color:#ffffff;-webkit-text-stroke-color:#ffffff;font-weight:400;">financial losses.</span></div>
<div class="t" style="left:182.6px;top:3149.2px;font-size:58.04px;-webkit-text-stroke-width:1.6px;letter-spacing:0px;transform:scaleX(1.0855)"><span style="color:#ffffff;-webkit-text-stroke-color:#ffffff;font-weight:400;">would invest in</span></div>
<div class="t" style="left:182.6px;top:3219.6px;font-size:58.04px;-webkit-text-stroke-width:1.6px;letter-spacing:0px;transform:scaleX(1.1138)"><span style="color:#ffffff;-webkit-text-stroke-color:#ffffff;font-weight:400;">cybersecurity training.</span></div>
<div class="t" style="left:181.8px;top:1936.4px;font-size:83.64px;-webkit-text-stroke-width:1.0px;letter-spacing:0px;transform:scaleX(0.8957)"><span style="color:#ffffff;-webkit-text-stroke-color:#ffffff;font-weight:400;">MANY COMPANIES</span></div>
<div class="t" style="left:181.8px;top:2010.8px;font-size:83.64px;-webkit-text-stroke-width:1.0px;letter-spacing:0px;transform:scaleX(0.8443)"><span style="color:#ffffff;-webkit-text-stroke-color:#ffffff;font-weight:400;">INVEST INEFFECTIVELY</span></div>
<div class="t" style="left:181.8px;top:2086.3px;font-size:83.64px;-webkit-text-stroke-width:1.0px;letter-spacing:0px;transform:scaleX(0.8386)"><span style="color:#ffffff;-webkit-text-stroke-color:#ffffff;font-weight:400;">IN CYBERSECURITY</span></div>
<div class="t" style="left:159.2px;top:3473.8px;font-size:83.64px;-webkit-text-stroke-width:1.0px;letter-spacing:0px;transform:scaleX(0.9148)"><span style="color:#000000;-webkit-text-stroke-color:#000000;font-weight:700;">Accenture</span></div>
<div class="t" style="left:551.4px;top:3473.1px;font-size:85.09px;-webkit-text-stroke-width:0px;letter-spacing:0px;transform:scaleX(0.9043)"><span style="color:#000000;-webkit-text-stroke-color:#000000;font-weight:400;">Security</span></div>
</body></html>
